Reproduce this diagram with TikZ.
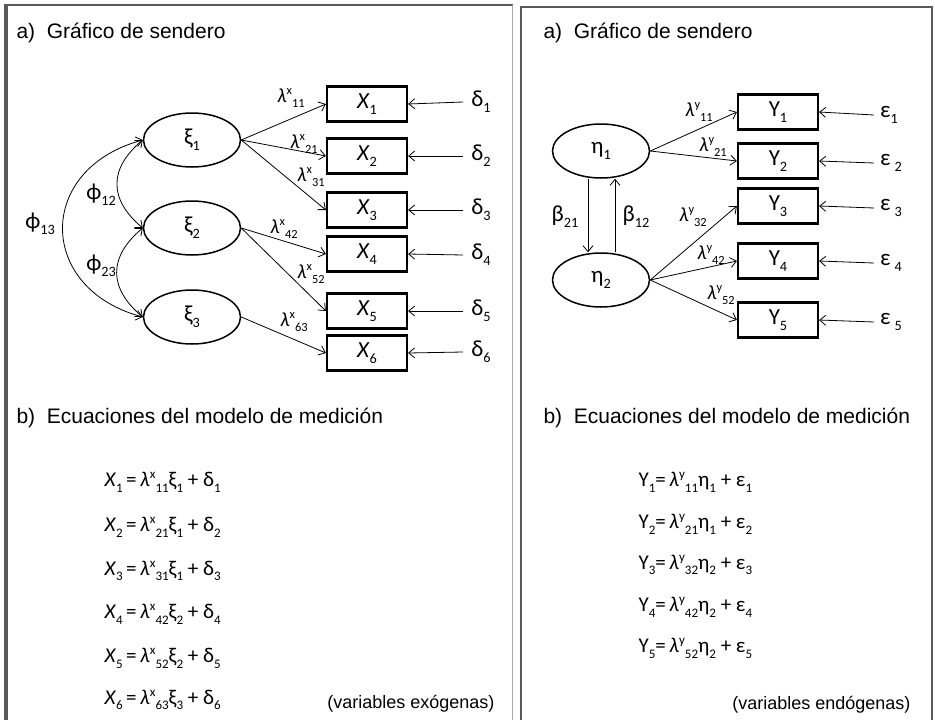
\documentclass[tikz,border=0pt]{standalone}
\usepackage{fontspec}
\setmainfont{Liberation Sans}
\newfontfamily\calfont{Carlito}
\usetikzlibrary{positioning,arrows.meta,shapes.geometric,calc}
\definecolor{frame600}{HTML}{5A5A5A}
\definecolor{frame300}{HTML}{A8A8A8}
\makeatletter
\newcommand\sps[1]{\raisebox{0.40em}{\fontsize{\the\dimexpr0.62\dimexpr\f@size pt\relax\relax}{0pt}\selectfont #1}}
\newcommand\sbs[1]{\raisebox{-0.26em}{\fontsize{\the\dimexpr0.62\dimexpr\f@size pt\relax\relax}{0pt}\selectfont #1}}
\makeatother
\tikzset{
  every node/.style={font=\calfont\fontsize{23}{25}\selectfont},
  heading/.style={anchor=west, font=\fontsize{21}{24}\selectfont},
  latent/.style={
    ellipse, draw, line width=1.5pt,
    minimum width=97pt, minimum height=54pt, inner sep=0pt
  },
  manifest/.style={
    rectangle, draw, line width=2.2pt,
    minimum width=80pt, minimum height=35pt, inner sep=0pt
  },
  errlabel/.style={inner sep=8pt},
  coef/.style={inner sep=0pt, font=\calfont\fontsize{20}{22}\selectfont},
  eqn/.style={anchor=west, font=\calfont\fontsize{21}{24}\selectfont},
  note/.style={anchor=east, font=\fontsize{18}{20}\selectfont},
  arrow/.style={-{Straight Barb[length=6pt,width=10pt]}, line width=0.8pt},
  biarrow/.style={{Straight Barb[length=6pt,width=10pt]}-{Straight Barb[length=6pt,width=10pt]}, line width=0.8pt},
}

\begin{document}
\begin{tikzpicture}[x=1pt, y=-1pt]
  \useasboundingbox (0,0) rectangle (935,720);

  % frames
  \draw[frame600, line width=4pt] (6,5) -- (6,720);
  \draw[frame600, line width=2pt] (4,5) -- (513,5);
  \draw[frame300, line width=1pt] (512,5) -- (512,720);
  \draw[frame600, line width=1.4pt] (521,720) -- (521,7) -- (932,7) -- (932,720);

  % ---- left panel: exogenous ----
  \node[heading] (ha1) at (13,33) {a)\ \ Gráfico de sendero};

  \node[latent] (xi1) at (192,140) {ξ\sbs{1}};
  \node[latent] (xi2) at (192,228) {ξ\sbs{2}};
  \node[latent] (xi3) at (192,317) {ξ\sbs{3}};

  \node[manifest] (x1) at (367,104) {\textit{X}\sbs{1}};
  \node[manifest] (x2) at (367,156) {\textit{X}\sbs{2}};
  \node[manifest] (x3) at (367,210) {\textit{X}\sbs{3}};
  \node[manifest] (x4) at (367,254) {\textit{X}\sbs{4}};
  \node[manifest] (x5) at (367,311) {\textit{X}\sbs{5}};
  \node[manifest] (x6) at (367,353) {\textit{X}\sbs{6}};

  \node[errlabel] (d1) at (481,102) {δ\sbs{1}};
  \node[errlabel] (d2) at (481,156) {δ\sbs{2}};
  \node[errlabel] (d3) at (481,210) {δ\sbs{3}};
  \node[errlabel] (d4) at (481,255) {δ\sbs{4}};
  \node[errlabel] (d5) at (481,311) {δ\sbs{5}};
  \node[errlabel] (d6) at (481,352) {δ\sbs{6}};

  \foreach \i in {1,...,6} {
    \draw[arrow] (d\i.west) -- (x\i.east);
  }

  \draw[arrow] (xi1.east) -- (x1.west);
  \draw[arrow] (xi1.east) -- (x2.west);
  \draw[arrow] (xi1.east) -- (x3.west);
  \draw[arrow] (xi2.east) -- (x4.west);
  \draw[arrow] (xi2.east) -- (x5.west);
  \draw[arrow] (xi3.east) -- (x6.west);

  \node[coef] (l11) at (291,98) {\textit{λ}\sps{x}\sbs{11}};
  \node[coef] (l21) at (304,144) {\textit{λ}\sps{x}\sbs{21}};
  \node[coef] (l31) at (311,177) {\textit{λ}\sps{x}\sbs{31}};
  \node[coef] (l42) at (284,229) {\textit{λ}\sps{x}\sbs{42}};
  \node[coef] (l52) at (311,274) {\textit{λ}\sps{x}\sbs{52}};
  \node[coef] (l63) at (294,322) {\textit{λ}\sps{x}\sbs{63}};

  \draw[biarrow] (xi1.west) to[out=220, in=140, looseness=1.3] (xi2.west);
  \draw[biarrow] (xi2.west) to[out=220, in=140, looseness=1.3] (xi3.west);
  \draw[biarrow] (xi1.west) to[out=195, in=165, looseness=1.6] (xi3.west);

  \node[inner sep=0pt] (p12) at (101,195) {ϕ\sbs{12}};
  \node[inner sep=0pt] (p23) at (101,266) {ϕ\sbs{23}};
  \node[inner sep=0pt] (p13) at (40,224) {ϕ\sbs{13}};

  \node[heading] (hb1) at (13,418) {b)\ \ Ecuaciones del modelo de medición};

  \node[eqn] (ex1) at (101,482) {\textit{X}\sbs{1}\,=\,\textit{λ}\sps{x}\sbs{11}ξ\sbs{1} + δ\sbs{1}};
  \node[eqn] (ex2) at (101,527) {\textit{X}\sbs{2}\,=\,\textit{λ}\sps{x}\sbs{21}ξ\sbs{1} + δ\sbs{2}};
  \node[eqn] (ex3) at (101,571) {\textit{X}\sbs{3}\,=\,\textit{λ}\sps{x}\sbs{31}ξ\sbs{1} + δ\sbs{3}};
  \node[eqn] (ex4) at (101,614) {\textit{X}\sbs{4}\,=\,\textit{λ}\sps{x}\sbs{42}ξ\sbs{2} + δ\sbs{4}};
  \node[eqn] (ex5) at (101,658) {\textit{X}\sbs{5}\,=\,\textit{λ}\sps{x}\sbs{52}ξ\sbs{2} + δ\sbs{5}};
  \node[eqn] (ex6) at (101,700) {\textit{X}\sbs{6}\,=\,\textit{λ}\sps{x}\sbs{63}ξ\sbs{3} + δ\sbs{6}};

  \node[note] (nx) at (498,704) {(variables exógenas)};

  % ---- right panel: endogenous ----
  \node[heading] (ha2) at (540,33) {a)\ \ Gráfico de sendero};

  \node[latent] (eta1) at (601,151) {η\sbs{1}};
  \node[latent] (eta2) at (601,280) {η\sbs{2}};

  \node[manifest] (y1) at (778,112) {Y\sbs{1}};
  \node[manifest] (y2) at (778,161) {Y\sbs{2}};
  \node[manifest] (y3) at (778,206) {Y\sbs{3}};
  \node[manifest] (y4) at (778,261) {Y\sbs{4}};
  \node[manifest] (y5) at (778,320) {Y\sbs{5}};

  \node[errlabel, inner sep=6pt] (e1) at (889,115) {ε\sbs{1}};
  \node[errlabel, inner sep=6pt] (e2) at (891,163) {ε\hspace{4pt}\sbs{2}};
  \node[errlabel, inner sep=6pt] (e3) at (891,208) {ε\hspace{4pt}\sbs{3}};
  \node[errlabel, inner sep=6pt] (e4) at (891,263) {ε\hspace{4pt}\sbs{4}};
  \node[errlabel, inner sep=6pt] (e5) at (891,322) {ε\hspace{4pt}\sbs{5}};

  \foreach \i in {1,...,5} {
    \draw[arrow] (e\i.west) -- (y\i.east);
  }

  \draw[arrow] (eta1.east) -- (y1.west);
  \draw[arrow] (eta1.east) -- (y2.west);
  \draw[arrow] (eta2.east) -- (y3.west);
  \draw[arrow] (eta2.east) -- (y4.west);
  \draw[arrow] (eta2.east) -- (y5.west);

  \node[coef] (m11) at (699,112) {\textit{λ}\sps{y}\sbs{11}};
  \node[coef] (m21) at (713,147) {\textit{λ}\sps{y}\sbs{21}};
  \node[coef] (m32) at (693,217) {\textit{λ}\sps{y}\sbs{32}};
  \node[coef] (m42) at (711,255) {\textit{λ}\sps{y}\sbs{42}};
  \node[coef] (m52) at (721,295) {\textit{λ}\sps{y}\sbs{52}};

  \draw[arrow] ([xshift=-13pt]eta1.south) -- ([xshift=-13pt]eta2.north);
  \draw[arrow] ([xshift=14pt]eta2.north) -- ([xshift=14pt]eta1.south);

  \node[inner sep=0pt] (b21) at (565,217) {β\sbs{21}};
  \node[inner sep=0pt] (b12) at (636,217) {β\sbs{12}};

  \node[heading] (hb2) at (540,418) {b)\ \ Ecuaciones del modelo de medición};

  \node[eqn] (ey1) at (635,482) {Y\sbs{1}=\,\textit{λ}\sps{y}\sbs{11}η\sbs{1} + ε\sbs{1}};
  \node[eqn] (ey2) at (635,524) {Y\sbs{2}=\,\textit{λ}\sps{y}\sbs{21}η\sbs{1} + ε\sbs{2}};
  \node[eqn] (ey3) at (635,565) {Y\sbs{3}=\,\textit{λ}\sps{y}\sbs{32}η\sbs{2} + ε\sbs{3}};
  \node[eqn] (ey4) at (635,607) {Y\sbs{4}=\,\textit{λ}\sps{y}\sbs{42}η\sbs{2} + ε\sbs{4}};
  \node[eqn] (ey5) at (635,648) {Y\sbs{5}=\,\textit{λ}\sps{y}\sbs{52}η\sbs{2} + ε\sbs{5}};

  \node[note] (ny) at (914,705) {(variables endógenas)};
\end{tikzpicture}
\end{document}
